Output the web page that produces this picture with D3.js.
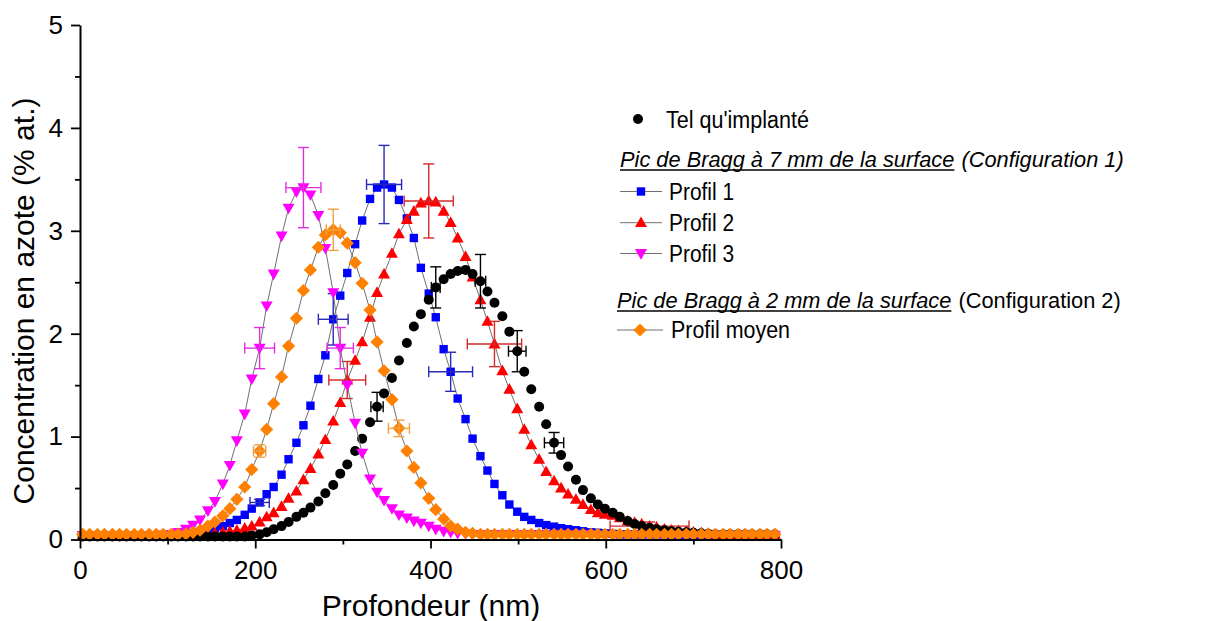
<!DOCTYPE html>
<html><head><meta charset="utf-8">
<script src="https://cdn.jsdelivr.net/npm/d3@7"></script>
<style>
body{margin:0;background:#fff}
svg{display:block}
text{font-family:"Liberation Sans",Arial,Helvetica,sans-serif;fill:#000}
</style>
</head><body>
<svg id="chart" width="1219" height="621"></svg>
<script>
// ---------- DATA ----------
const depth = [3,11,20,28,37,45,53,62,70,79,
  87,95,104,112,121,129,137,146,154,163,
  171,179,188,196,205,213,221,230,238,247,
  255,263,272,280,289,297,305,314,322,331,
  339,347,356,364,373,381,389,398,406,415,
  423,431,440,448,457,465,473,482,490,499,
  507,515,524,532,541,549,557,566,574,583,
  591,599,608,616,625,633,641,650,658,667,
  675,683,692,700,709,717,725,734,742,751,
  759,767,776,784,793];

const telQuImplante = [0.03,0.03,0.03,0.03,0.03,0.03,0.03,0.03,0.03,0.03,
  0.03,0.03,0.03,0.03,0.03,0.03,0.03,0.03,0.03,0.03,
  0.03,0.03,0.03,0.04,0.05,0.07,0.10,0.13,0.17,0.22,
  0.26,0.31,0.37,0.45,0.53,0.64,0.73,0.86,0.98,1.14,
  1.29,1.42,1.57,1.74,1.91,2.07,2.19,2.33,2.45,2.53,
  2.58,2.61,2.62,2.58,2.51,2.41,2.30,2.17,2.02,1.83,
  1.63,1.46,1.29,1.12,0.94,0.82,0.71,0.58,0.48,0.40,
  0.34,0.30,0.26,0.22,0.18,0.15,0.13,0.115,0.10,0.09,
  0.08,0.075,0.07,0.065,0.06,0.055,0.05,0.05,0.05,0.05,
  0.05,0.05,0.05,0.05,0.05];

const profil1 = [0.04,0.04,0.04,0.04,0.04,0.04,0.04,0.04,0.04,0.04,
  0.04,0.04,0.04,0.045,0.05,0.06,0.07,0.08,0.10,0.13,
  0.16,0.19,0.24,0.30,0.36,0.44,0.51,0.63,0.78,0.94,
  1.11,1.30,1.56,1.79,2.14,2.37,2.59,2.87,3.10,3.31,
  3.42,3.45,3.42,3.30,3.12,2.93,2.64,2.39,2.16,1.85,
  1.63,1.37,1.17,0.98,0.81,0.67,0.54,0.43,0.34,0.27,
  0.22,0.19,0.16,0.14,0.125,0.11,0.10,0.09,0.08,0.07,
  0.065,0.06,0.055,0.05,0.05,0.05,0.05,0.05,0.05,0.05,
  0.045,0.045,0.045,0.045,0.045,0.045,0.045,0.045,0.045,0.045,
  0.04,0.04,0.04,0.04,0.04];

const profil2 = [0.04,0.04,0.04,0.04,0.04,0.04,0.04,0.04,0.04,0.04,
  0.04,0.04,0.04,0.04,0.04,0.045,0.05,0.05,0.06,0.07,
  0.08,0.09,0.11,0.13,0.17,0.22,0.26,0.32,0.40,0.47,
  0.58,0.69,0.83,0.97,1.15,1.33,1.55,1.74,1.92,2.16,
  2.40,2.58,2.78,2.97,3.11,3.19,3.27,3.29,3.28,3.19,
  3.08,2.93,2.75,2.55,2.33,2.12,1.90,1.64,1.46,1.27,
  1.07,0.92,0.78,0.66,0.57,0.50,0.44,0.39,0.34,0.29,
  0.26,0.245,0.235,0.21,0.18,0.165,0.15,0.13,0.12,0.10,
  0.09,0.085,0.08,0.07,0.065,0.06,0.05,0.05,0.05,0.05,
  0.05,0.05,0.05,0.05,0.05];

const profil3 = [0.04,0.04,0.04,0.04,0.04,0.04,0.04,0.04,0.04,0.04,
  0.04,0.045,0.05,0.07,0.10,0.14,0.19,0.28,0.37,0.54,
  0.72,0.96,1.22,1.56,1.86,2.27,2.58,2.95,3.22,3.38,
  3.42,3.35,3.15,2.83,2.40,1.86,1.50,1.13,0.84,0.59,
  0.46,0.38,0.30,0.24,0.21,0.18,0.16,0.13,0.10,0.08,
  0.07,0.06,0.055,0.05,0.05,0.05,0.05,0.05,0.05,0.05,
  0.05,0.05,0.05,0.05,0.05,0.05,0.05,0.05,0.05,0.05,
  0.04,0.04,0.04,0.04,0.04,0.04,0.04,0.04,0.04,0.04,
  0.04,0.04,0.04,0.04,0.04,0.04,0.04,0.04,0.04,0.04,
  0.04,0.04,0.04,0.04,0.04];

const profilMoyen = [0.05,0.05,0.05,0.05,0.05,0.05,0.05,0.05,0.05,0.05,
  0.05,0.05,0.05,0.05,0.055,0.07,0.09,0.13,0.17,0.23,
  0.30,0.39,0.51,0.68,0.86,1.07,1.32,1.58,1.88,2.15,
  2.42,2.62,2.84,2.96,3.01,2.98,2.88,2.69,2.49,2.23,
  1.92,1.64,1.36,1.08,0.86,0.70,0.55,0.40,0.29,0.20,
  0.13,0.10,0.07,0.06,0.05,0.05,0.05,0.05,0.05,0.05,
  0.05,0.05,0.05,0.05,0.05,0.05,0.05,0.05,0.05,0.05,
  0.05,0.05,0.05,0.05,0.05,0.05,0.05,0.05,0.05,0.05,
  0.05,0.05,0.05,0.05,0.05,0.05,0.05,0.05,0.05,0.05,
  0.05,0.05,0.05,0.05,0.05];

// error bars: [depth, x half-width (nm), y half-height (% at.)]
const errTel = [[339,7,0.14],[406,5,0.20],[457,6,0.26],[499,10,0.20],[541,11,0.10]];
const errProfil1 = [[205,11,0.03],[289,17,0.25],[347,20,0.38],[423,25,0.19]];
const errProfil2 = [[305,21,0.18],[398,28,0.36],[473,31,0.22],[650,45,0.04]];
const errProfil3 = [[205,17,0.20],[255,20,0.39],[297,15,0.20]];
const errProfilMoyen = [[205,7,0.06],[289,8,0.20],[364,12,0.08]];

const xTicks = [0,200,400,600,800];
const xMinor = [100,300,500,700];
const yTicks = [0,1,2,3,4,5];
const yMinor = [0.5,1.5,2.5,3.5,4.5];

const legendNames = ["Tel qu'implanté","Profil 1","Profil 2","Profil 3","Profil moyen"];
const header1 = ["Pic de Bragg à 7 mm de la surface","(Configuration 1)"];
const header2 = ["Pic de Bragg à 2 mm de la surface","(Configuration 2)"];

// ---------- DRAW ----------
const svg = d3.select("#chart");
svg.append("rect").attr("width",1219).attr("height",621).attr("fill","#fff");

const x = d3.scaleLinear().domain([0,800]).range([80,781]);
const y = d3.scaleLinear().domain([0,5]).range([539.5,25]);

const shapes = {
  circle: "M5,0A5,5,0,1,1,-5,0A5,5,0,1,1,5,0Z",
  square: "M-4.2,-4.2h8.4v8.4h-8.4Z",
  up: "M0,-6.2L6,4.4L-6,4.4Z",
  down: "M0,6.2L6,-4.4L-6,-4.4Z",
  diamond: "M0,-6.6L6.6,0L0,6.6L-6.6,0Z"
};

const series = [
  {name:legendNames[1], vals:profil1, color:"#0000ff", err:errProfil1, errColor:"#2a2ab8", shape:"square", line:true},
  {name:legendNames[2], vals:profil2, color:"#ff0000", err:errProfil2, errColor:"#d42a2a", shape:"up", line:true},
  {name:legendNames[0], vals:telQuImplante, color:"#000000", err:errTel, errColor:"#000000", shape:"circle", line:false},
  {name:legendNames[3], vals:profil3, color:"#ff00ff", err:errProfil3, errColor:"#e030e0", shape:"down", line:true},
  {name:legendNames[4], vals:profilMoyen, color:"#ff8000", err:errProfilMoyen, errColor:"#f0a040", shape:"diamond", line:true}
];

const lineGen = d3.line().x(d=>x(d[0])).y(d=>y(d[1]));
const plot = svg.append("g");

series.forEach(s => {
  const pts = depth.map((d,i)=>[d, s.vals[i]]);
  const g = plot.append("g");
  if (s.line) {
    g.append("path").attr("d", lineGen(pts)).attr("fill","none")
      .attr("stroke","#707070").attr("stroke-width",1);
  }
  g.selectAll("path.m").data(pts).enter().append("path").attr("class","m")
    .attr("d", shapes[s.shape])
    .attr("transform", d=>`translate(${x(d[0])},${y(d[1])})`)
    .attr("fill", s.color);
  s.err.forEach(e => {
    const i = depth.indexOf(e[0]);
    const cx = x(e[0]), cy = y(s.vals[i]);
    const eg = g.append("g").attr("stroke", s.errColor).attr("stroke-width",1.4).attr("fill","none");
    const x0 = x(e[0]-e[1]), x1 = x(e[0]+e[1]);
    const y0 = y(s.vals[i]-e[2]), y1 = y(s.vals[i]+e[2]);
    eg.append("line").attr("x1",cx).attr("x2",cx).attr("y1",y0).attr("y2",y1);
    eg.append("line").attr("x1",cx-5.5).attr("x2",cx+5.5).attr("y1",y0).attr("y2",y0);
    eg.append("line").attr("x1",cx-5.5).attr("x2",cx+5.5).attr("y1",y1).attr("y2",y1);
    eg.append("line").attr("x1",x0).attr("x2",x1).attr("y1",cy).attr("y2",cy);
    eg.append("line").attr("x1",x0).attr("x2",x0).attr("y1",cy-5.5).attr("y2",cy+5.5);
    eg.append("line").attr("x1",x1).attr("x2",x1).attr("y1",cy-5.5).attr("y2",cy+5.5);
  });
});

// ---------- AXES ----------
svg.append("g").attr("transform","translate(0,539.5)")
  .call(d3.axisBottom(x).tickValues(xTicks).tickSize(9).tickSizeOuter(0).tickPadding(12).tickFormat(d3.format("d")));
svg.append("g").attr("transform","translate(0,539.5)")
  .call(d3.axisBottom(x).tickValues(xMinor).tickSize(5).tickSizeOuter(0).tickFormat(""))
  .call(g=>g.select(".domain").remove());
svg.append("g").attr("transform","translate(80,0)")
  .call(d3.axisLeft(y).tickValues(yTicks).tickSize(9).tickSizeOuter(0).tickPadding(8).tickFormat(d3.format("d")));
svg.append("g").attr("transform","translate(80,0)")
  .call(d3.axisLeft(y).tickValues(yMinor).tickSize(5).tickSizeOuter(0).tickFormat(""))
  .call(g=>g.select(".domain").remove());

svg.selectAll(".domain").attr("stroke","#000").attr("stroke-width",2);
svg.selectAll(".tick line").attr("stroke","#000").attr("stroke-width",1.8);
svg.selectAll(".tick text").attr("font-size",26).attr("font-family","Liberation Sans, Arial, sans-serif").attr("fill","#000");

svg.append("text").attr("x",431).attr("y",616).attr("text-anchor","middle")
  .attr("font-size",30).text("Profondeur (nm)");
svg.append("text").attr("transform","translate(34,301) rotate(-90)").attr("text-anchor","middle")
  .attr("font-size",30).text("Concentration en azote (% at.)");

// ---------- LEGEND ----------
const leg = svg.append("g");
const fs = 23.5;
function fitText(t, w){ t.attr("textLength", w).attr("lengthAdjust","spacingAndGlyphs"); return t; }

leg.append("path").attr("d",shapes.circle).attr("transform","translate(638,119)").attr("fill","#000");
fitText(leg.append("text").attr("x",666).attr("y",127.5).attr("font-size",fs).text(legendNames[0]), 143);

function header(xp, yp, parts, secondItalic){
  const hs = 21.8;
  const t1 = leg.append("text").attr("x",xp).attr("y",yp).attr("font-size",hs)
    .attr("font-style","italic").text(parts[0]);
  const w1 = t1.node().getComputedTextLength();
  leg.append("line").attr("x1",xp).attr("x2",xp+w1).attr("y1",yp+3).attr("y2",yp+3)
    .attr("stroke","#000").attr("stroke-width",1.3);
  leg.append("text").attr("x",xp+w1+7).attr("y",yp).attr("font-size",hs)
    .attr("font-style", secondItalic ? "italic" : "normal").text(parts[1]);
}
header(620,167,header1,true);
header(617,308,header2,false);

function legItem(x1, x2, mx, yc, tx, ty, shape, color, name, w){
  leg.append("line").attr("x1",x1).attr("x2",x2).attr("y1",yc).attr("y2",yc)
    .attr("stroke","#707070").attr("stroke-width",1);
  leg.append("path").attr("d",shapes[shape]).attr("transform",`translate(${mx},${yc})`).attr("fill",color);
  fitText(leg.append("text").attr("x",tx).attr("y",ty).attr("font-size",fs).text(name), w);
}
legItem(620,662,641,191.5,669,199.5,"square","#0000ff",legendNames[1],65);
legItem(620,662,641,222.7,669,230.7,"up","#ff0000",legendNames[2],65);
legItem(620,662,641,253.5,669,261.5,"down","#ff00ff",legendNames[3],65);
legItem(617,663,640,330,671,338,"diamond","#ff8000",legendNames[4],119);
</script>
</body></html>
